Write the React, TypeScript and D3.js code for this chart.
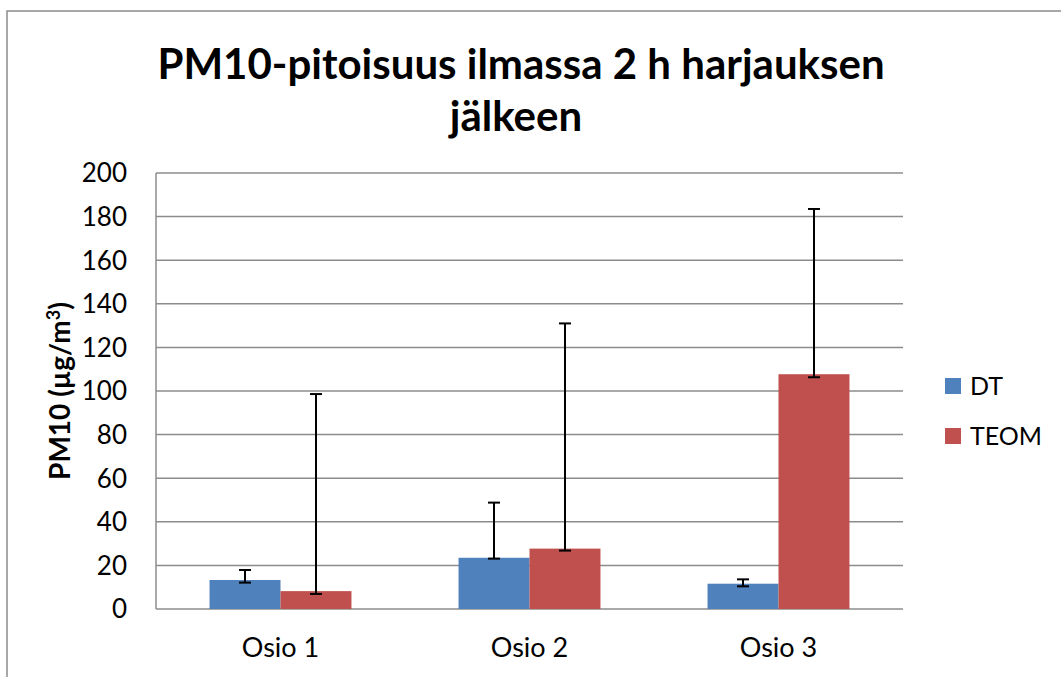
import React from 'react';
import * as d3 from 'd3';

const categories = ['Osio 1', 'Osio 2', 'Osio 3'];
const seriesNames = ['DT', 'TEOM'];
const dtValues = [13.3, 23.5, 11.6];
const dtLow = [12.1, 23.1, 10.4];
const dtHigh = [17.9, 48.8, 13.6];
const teomValues = [8.2, 27.7, 107.7];
const teomLow = [6.9, 26.8, 106.3];
const teomHigh = [98.6, 131, 183.5];
const yTicks = [0, 20, 40, 60, 80, 100, 120, 140, 160, 180, 200];
const colors = ['#4F81BD', '#C0504D'];

const W = 1061;
const H = 677;
const plot = { left: 156, right: 903, top: 173, bottom: 609 };
const FONT = 'Lato, "Open Sans", sans-serif';

export default function App() {
  const x0 = d3.scaleBand<string>()
    .domain(categories)
    .range([plot.left, plot.right])
    .paddingInner(0.43)
    .paddingOuter(0.215);
  const x1 = d3.scaleBand<string>()
    .domain(seriesNames)
    .range([0, x0.bandwidth()]);
  const y = d3.scaleLinear().domain([0, 200]).range([plot.bottom, plot.top]);

  const series = [
    { name: 'DT', values: dtValues, low: dtLow, high: dtHigh },
    { name: 'TEOM', values: teomValues, low: teomLow, high: teomHigh },
  ];

  return (
    <svg
      width={W}
      height={H}
      style={{ position: 'absolute', left: 0, top: 0, background: '#fff' }}
      fontFamily={FONT}
    >
      {/* chart frame */}
      <rect x={7} y={11} width={W + 20} height={H + 20} fill="#fff" stroke="#8c8c8c" strokeWidth={1.5} />

      {/* title */}
      <text x={521} y={79} textAnchor="middle" fontSize={42} fontWeight="bold" fill="#000">
        PM10-pitoisuus ilmassa 2 h harjauksen
      </text>
      <text x={516} y={131} textAnchor="middle" fontSize={42} fontWeight="bold" fill="#000">
        jälkeen
      </text>

      {/* grid lines */}
      {yTicks.map(t => (
        <line key={'g' + t} x1={plot.left} x2={plot.right} y1={y(t)} y2={y(t)} stroke="#8c8c8c" strokeWidth={1.5} />
      ))}
      <line x1={plot.left} x2={plot.left} y1={plot.top} y2={plot.bottom} stroke="#8c8c8c" strokeWidth={1.5} />

      {/* y tick labels */}
      {yTicks.map(t => (
        <text key={'t' + t} x={127} y={y(t)} dy="0.36em" textAnchor="end" fontSize={26} fill="#000">
          {t}
        </text>
      ))}

      {/* y axis title */}
      <text
        transform={`translate(60,${(plot.top + plot.bottom) / 2}) rotate(-90)`}
        textAnchor="middle"
        dy="0.36em"
        fontSize={28}
        fontWeight="bold"
        fill="#000"
      >
        PM10 (µg/m<tspan dy="-10" fontSize={18}>3</tspan><tspan dy="10">)</tspan>
      </text>

      {/* bars */}
      {series.map((s, si) =>
        categories.map((c, i) => {
          const bx = (x0(c) || 0) + (x1(s.name) || 0);
          return (
            <rect
              key={s.name + c}
              x={bx}
              y={y(s.values[i])}
              width={x1.bandwidth()}
              height={y(0) - y(s.values[i])}
              fill={colors[si]}
            />
          );
        })
      )}

      {/* error bars */}
      {series.map(s =>
        categories.map((c, i) => {
          const cx = (x0(c) || 0) + (x1(s.name) || 0) + x1.bandwidth() / 2;
          const yl = y(s.low[i]);
          const yh = y(s.high[i]);
          return (
            <g key={'e' + s.name + c} stroke="#000" strokeWidth={2}>
              <line x1={cx} x2={cx} y1={yl} y2={yh} />
              <line x1={cx - 6} x2={cx + 6} y1={yl} y2={yl} />
              <line x1={cx - 6} x2={cx + 6} y1={yh} y2={yh} />
            </g>
          );
        })
      )}

      {/* category labels */}
      {categories.map(c => (
        <text key={'c' + c} x={(x0(c) || 0) + x0.bandwidth() / 2} y={657} textAnchor="middle" fontSize={27} fill="#000">
          {c}
        </text>
      ))}

      {/* legend */}
      {seriesNames.map((n, i) => (
        <g key={'l' + n} transform={`translate(945,${378 + i * 50})`}>
          <rect x={0} y={0} width={16} height={16} fill={colors[i]} />
          <text x={25} y={8} dy="0.36em" fontSize={25} fill="#000">
            {n}
          </text>
        </g>
      ))}
    </svg>
  );
}
